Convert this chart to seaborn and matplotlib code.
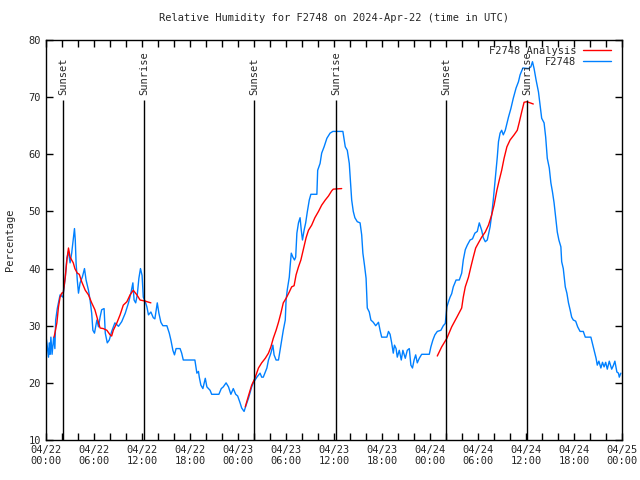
import pandas as pd
import seaborn as sns
import matplotlib
matplotlib.use("Agg")
import matplotlib.pyplot as plt
import matplotlib.dates as mdates
from matplotlib.lines import Line2D

# Observed RH (hours after 2024-04-22 00:00 UTC, percent)
obs_hours = [0.0, 0.1, 0.3, 0.4, 0.5, 0.6, 0.75, 0.95, 1.1, 1.2, 1.4, 1.75, 2.1, 2.4, 2.6, 2.8,
             3.0, 3.2, 3.35, 3.55, 3.65, 3.75, 3.9, 4.05, 4.25, 4.55, 4.8, 5.0, 5.3, 5.5, 5.7,
             5.85, 6.05, 6.35, 6.55, 6.75, 6.95, 7.25, 7.4, 7.65, 7.9, 8.2, 8.6, 9.05, 9.45,
             9.9, 10.3, 10.6, 10.85, 11.0, 11.2, 11.4, 11.6, 11.8, 12.0, 12.15, 12.4, 12.6,
             12.8, 13.1, 13.4, 13.6, 13.9, 14.1, 14.35, 14.6, 15.1, 15.4, 15.6, 15.85, 16.05,
             16.25, 16.75, 16.95, 17.15, 18.6, 18.85, 19.05, 19.15, 19.35, 19.6, 19.9, 20.1,
             20.5, 20.7, 21.6, 21.9, 22.15, 22.5, 22.8, 23.1, 23.4, 23.7, 23.95, 24.25, 24.45,
             24.75, 25.0, 25.3, 25.7, 25.9, 26.35, 26.75, 26.95, 27.15, 27.6, 27.8, 28.1,
             28.35, 28.5, 28.75, 29.05, 29.25, 29.45, 29.65, 29.9, 30.0, 30.15, 30.4, 30.5,
             30.65, 30.85, 31.05, 31.2, 31.35, 31.55, 31.75, 31.9, 32.05, 32.25, 32.45, 32.65,
             32.9, 33.1, 33.85, 33.95, 34.25, 34.45, 34.75, 35.1, 35.5, 35.85, 36.55, 37.1,
             37.4, 37.65, 37.9, 38.1, 38.2, 38.4, 38.6, 38.9, 39.25, 39.45, 39.6, 39.8, 40.0,
             40.15, 40.4, 40.6, 40.9, 41.2, 41.55, 41.75, 41.95, 42.6, 42.8, 43.0, 43.2, 43.4,
             43.55, 43.75, 43.9, 44.15, 44.4, 44.6, 44.9, 45.15, 45.4, 45.6, 45.8, 46.0, 46.2,
             46.4, 46.65, 46.95, 47.9, 48.1, 48.35, 48.6, 48.9, 49.35, 49.65, 49.9, 50.1, 50.3,
             50.5, 50.7, 50.9, 51.25, 51.65, 51.95, 52.15, 52.4, 52.65, 53.0, 53.3, 53.6, 53.9,
             54.15, 54.45, 54.65, 54.9, 55.15, 55.5, 55.7, 55.9, 56.05, 56.25, 56.4, 56.55,
             56.75, 56.95, 57.15, 57.4, 57.8, 58.1, 58.4, 58.75, 59.05, 59.25, 59.6, 60.3,
             60.6, 60.8, 61.0, 61.25, 61.55, 61.75, 61.95, 62.25, 62.45, 62.65, 62.9, 63.1,
             63.3, 63.5, 63.7, 63.9, 64.1, 64.35, 64.45, 64.65, 64.9, 65.1, 65.3, 65.5, 65.7,
             65.9, 66.2, 66.45, 66.75, 67.15, 67.4, 68.1, 68.35, 68.55, 68.75, 68.9, 69.1,
             69.35, 69.55, 69.75, 69.95, 70.15, 70.4, 70.7, 70.9, 71.1, 71.35, 71.55, 71.65,
             71.85]
obs_rh = [28, 27, 24.5, 27, 25, 28, 25, 28, 26, 31, 33, 35.4, 35, 38.5, 41.8, 43,
          41, 42.7, 44.6, 47, 45, 41, 38, 35.7, 37.5, 38.6, 40, 38, 36.2, 34.5, 32.2,
          29.2, 28.7, 31, 29.8, 31.5, 32.8, 33, 28.7, 27, 27.5, 29, 30.5, 29.9, 30.7,
          32.2, 34, 35.7, 37.5, 34.5, 34, 35.4, 38.3, 40, 38.8, 35, 34.2, 33.3,
          31.9, 32.4, 31.4, 31.2, 34, 32.2, 30.6, 30, 30, 28.7, 27.5, 25.7, 24.9,
          26, 26, 25.2, 24, 24, 21.7, 22, 21, 19.6, 19, 20.8, 19.3,
          18.7, 18, 18, 19, 19.3, 20, 19.3, 18, 19, 18, 17.7, 16.5, 15.6,
          15, 16.1, 17.3, 19.3, 20, 21, 21.7, 21, 21, 22.6, 24, 25.2,
          26.6, 24.9, 24, 24, 25.7, 27.5, 29.2, 31, 34.5, 36.3, 38.5, 40.3,
          42.7, 42, 41.5, 42, 46.2, 48, 48.9, 46.7, 45, 46.7, 48, 49.9,
          52, 53, 53, 57.2, 58.4, 60.2, 61.3, 62.8, 63.7, 64, 64, 64,
          61.3, 60.7, 58.4, 54.3, 52, 50, 48.9, 48.2, 48, 45.9, 42.7, 40.6, 38.3,
          33.1, 32.4, 31, 30.6, 30, 30.6, 29.2, 28, 28, 29, 28.5, 27, 25.2,
          26.6, 26, 24.5, 25.7, 24, 25.7, 24.3, 25.7, 26, 23.1, 22.6, 24, 24.9,
          23.5, 24.3, 25, 25, 26.3, 27.5, 28.4, 29, 29.2, 30, 30.4, 33.3, 34.2,
          35, 35.6, 36.8, 38, 38, 39.2, 41.5, 43.3, 44.1, 45, 45.2, 46.2, 46.5,
          48, 46.7, 45.4, 44.7, 45, 47.3, 49.4, 52, 54.3, 57.2, 59.5, 62.2,
          63.7, 64.2, 63.4, 64.2, 66.5, 68, 69.8, 71.6, 72.7, 73.9, 75.1, 75,
          75.3, 76.2, 75, 73, 70.9, 68.6, 66.3, 65.5, 63, 59.3, 57.6, 55,
          53.4, 51.5, 49, 46.4, 45, 43.8, 41.2, 40, 36.8, 35.7, 34, 32.8, 31.5,
          31, 30.8, 29.8, 29, 29, 28, 28, 26.6, 25.4, 24.3, 23.1, 23.8,
          22.6, 23.6, 22.8, 23.6, 22.4, 23.8, 22.4, 23, 23.8, 21.9, 21.7, 21,
          21.7]

# Analysis RH, three separate runs
ana1_hours = [1.0, 1.35, 1.55, 1.75, 1.95, 2.15, 2.4, 2.6, 2.8, 3.0, 3.2, 3.4, 3.6, 3.9, 4.15,
              4.45, 4.9, 5.3, 5.7, 6.1, 6.4, 6.75, 7.15, 7.6, 8.0, 8.2, 8.4, 8.85, 9.25, 9.65,
              10.1, 10.5, 10.9, 11.35, 11.75, 12.4, 13.1]
ana1_rh = [28, 30.5, 33.3, 35, 35.7, 35.8, 38.5, 41.5, 43.6, 42, 41.5, 41, 40, 39.2, 39,
           37.7, 36.2, 35.4, 34, 32.8, 31.3, 29.6, 29.5, 29.2, 28.4, 28.2, 29.2, 30.5, 31.9, 33.6,
           34.2, 35.4, 36.2, 35.4, 34.5, 34.3, 34]
ana2_hours = [24.9, 25.25, 25.7, 26.1, 26.55, 26.95, 27.4, 27.8, 28.1, 28.4, 28.75, 29.05,
              29.35, 29.65, 30.0, 30.4, 30.7, 31.0, 31.25, 31.55, 31.85, 32.15, 32.5, 32.8,
              33.2, 33.6, 34.05, 34.45, 34.9, 35.3, 35.7, 35.9, 36.95]
ana2_rh = [15.8, 17.5, 19.6, 20.8, 22.6, 23.5, 24.3, 25.2, 26.3, 27.8, 29.2, 30.6,
           32.2, 34, 34.8, 35.9, 36.8, 37, 38.9, 40.3, 41.5, 43.3, 45.4, 46.7,
           47.6, 48.9, 50, 51.1, 52, 52.7, 53.6, 53.9, 54]
ana3_hours = [48.9, 49.45, 50.1, 50.7, 51.35, 51.95, 52.15, 52.4, 52.8, 53.1, 53.4, 53.7,
              54.05, 54.45, 54.9, 55.3, 55.7, 56.0, 56.35, 56.65, 56.95, 57.25, 57.6, 58.0,
              58.5, 58.9, 59.15, 59.45, 59.75, 60.1, 60.5, 60.9]
ana3_rh = [24.7, 26.3, 27.8, 29.8, 31.5, 33.1, 35, 36.8, 38.5, 40.3, 42, 43.6,
           44.5, 45.5, 46.4, 47.6, 49.4, 51.1, 53.7, 55.5, 57.2, 59.3, 61.3, 62.5,
           63.4, 64.2, 65.6, 67.4, 69.1, 69.2, 69, 68.8]

# Sun events
sun_hours = [2.125, 12.25, 26.0, 36.25, 50.0, 60.1]
sun_labels = ["Sunset", "Sunrise", "Sunset", "Sunrise", "Sunset", "Sunrise"]

base = pd.Timestamp("2024-04-22 00:00")
to_time = lambda h: base + pd.to_timedelta(pd.Series(h), unit="h")

obs = pd.DataFrame({"time": to_time(obs_hours), "rh": obs_rh})
ana = pd.concat([
    pd.DataFrame({"time": to_time(ana1_hours), "rh": ana1_rh, "run": 1}),
    pd.DataFrame({"time": to_time(ana2_hours), "rh": ana2_rh, "run": 2}),
    pd.DataFrame({"time": to_time(ana3_hours), "rh": ana3_rh, "run": 3}),
], ignore_index=True)

sns.set_style("ticks")
plt.rcParams["font.family"] = ["DejaVu Sans Mono"]

fig = plt.figure(figsize=(6.4, 4.8), dpi=100)
ax = fig.add_axes([0.072, 0.0833, 0.9, 0.8334])

red = "#ff0000"
blue = "#0080ff"

sns.lineplot(data=obs, x="time", y="rh", color=blue, lw=1, ax=ax)
sns.lineplot(data=ana, x="time", y="rh", units="run", estimator=None,
             color=red, lw=1, ax=ax)

for h, lab in zip(sun_hours, sun_labels):
    t = base + pd.Timedelta(hours=h)
    ax.vlines(t, 10, 69.5, color="black", lw=1)
    ax.text(t, 70.4, lab, rotation=90, ha="center", va="bottom", fontsize=7.5)

ax.set_xlim(base, base + pd.Timedelta(hours=72))
ax.set_ylim(10, 80)
ax.set_yticks(range(10, 81, 10))
ax.xaxis.set_major_locator(mdates.HourLocator(byhour=[0, 6, 12, 18]))
ax.xaxis.set_minor_locator(mdates.HourLocator(byhour=range(0, 24, 2)))
ax.xaxis.set_major_formatter(mdates.DateFormatter("%m/%d\n%H:%M"))
ax.tick_params(which="both", direction="in", top=True, right=True,
               labelsize=7.5, width=1, color="black", length=5)
for s in ax.spines.values():
    s.set_linewidth(1)
    s.set_color("black")

ax.set_xlabel("")
ax.set_ylabel("Percentage", fontsize=7.5, labelpad=10)
ax.set_title("Relative Humidity for F2748 on 2024-Apr-22 (time in UTC)",
             fontsize=7.5, pad=14)

handles = [Line2D([], [], color=red, lw=1), Line2D([], [], color=blue, lw=1)]
ax.legend(handles, ["F2748 Analysis", "F2748"], loc="upper right",
          bbox_to_anchor=(0.986, 0.994), frameon=False,
          markerfirst=False, fontsize=7.5, handlelength=2.7, borderaxespad=0,
          borderpad=0.3, labelspacing=0.1, handletextpad=0.6)

fig.savefig("out.png", dpi=100)
